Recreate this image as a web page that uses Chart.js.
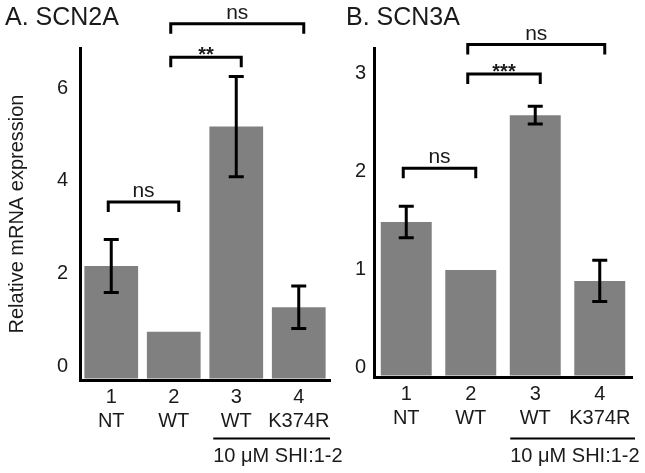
<!DOCTYPE html>
<html><head><meta charset="utf-8">
<script src="https://cdn.jsdelivr.net/npm/chart.js@4/dist/chart.umd.min.js"></script>
<style>
html,body{margin:0;padding:0;background:#fff;width:645px;height:473px;overflow:hidden}
.box{position:absolute;top:0;height:473px}
</style></head><body>
<div class="box" style="left:0;width:350px"><canvas id="cA" width="350" height="473"></canvas></div>
<div class="box" style="left:335px;width:310px"><canvas id="cB" width="310" height="473"></canvas></div>
<script>
// ---- data ----
const categories = [['1','NT'],['2','WT'],['3','WT'],['4','K374R']];
const scn2aValues = [2.16, 0.74, 5.17, 1.27];
const scn2aErrors = [0.57, 0, 1.08, 0.46];
const scn2aTicks = [0, 2, 4, 6];
const scn3aValues = [1.48, 0.99, 2.57, 0.88];
const scn3aErrors = [0.16, 0, 0.09, 0.21];
const scn3aTicks = [0, 1, 2, 3];
// [from category, to category, height (value units), label]
const scn2aBrackets = [[1, 3, 7.39, 'ns'], [1, 2, 6.67, '**'], [0, 1, 3.54, 'ns']];
const scn3aBrackets = [[1, 3, 3.29, 'ns'], [1, 2, 2.99, '***'], [0, 1, 2.03, 'ns']];
const treatmentLabel = '10 μM SHI:1-2';
const titleA = 'A. SCN2A';
const titleB = 'B. SCN3A';
const yTitle = 'Relative mRNA expression';

const INK = '#1a1a1a';
const FONT = 'Liberation Sans, Arial, sans-serif';
const NARROW = 'Liberation Sans Narrow, Liberation Sans, Arial, sans-serif';

function decorPlugin(cfg) {
  return {
    id: 'decor',
    afterDatasetsDraw(chart) {
      const ctx = chart.ctx, y = chart.scales.y, meta = chart.getDatasetMeta(0);
      ctx.save();
      ctx.strokeStyle = '#000';
      ctx.lineWidth = 3;
      cfg.values.forEach((v, i) => {
        const e = cfg.errors[i];
        if (!e) return;
        const x = meta.data[i].x;
        const t = y.getPixelForValue(v + e), b = y.getPixelForValue(v - e);
        ctx.beginPath();
        ctx.moveTo(x, t); ctx.lineTo(x, b);
        ctx.moveTo(x - 7.5, t); ctx.lineTo(x + 7.5, t);
        ctx.moveTo(x - 7.5, b); ctx.lineTo(x + 7.5, b);
        ctx.stroke();
      });
      ctx.restore();
    },
    afterDraw(chart) {
      const ctx = chart.ctx, xs = chart.scales.x, y = chart.scales.y, area = chart.chartArea;
      ctx.save();
      // title
      ctx.fillStyle = INK;
      ctx.font = '25px ' + FONT;
      ctx.textAlign = 'left';
      ctx.textBaseline = 'middle';
      ctx.fillText(cfg.title, cfg.titleX, 18);
      // brackets
      ctx.strokeStyle = '#000';
      ctx.lineWidth = 3;
      cfg.brackets.forEach(([a, b, h, lab]) => {
        const x1 = xs.getPixelForValue(a) - 3, x2 = xs.getPixelForValue(b) + 5;
        const py = y.getPixelForValue(h);
        ctx.beginPath();
        ctx.moveTo(x1, py + 10); ctx.lineTo(x1, py); ctx.lineTo(x2, py); ctx.lineTo(x2, py + 10);
        ctx.stroke();
        ctx.textAlign = 'center';
        ctx.textBaseline = 'alphabetic';
        const cx = (x1 + x2) / 2;
        if (lab === 'ns') {
          ctx.font = '21px ' + NARROW;
          ctx.fillText(lab, cx, py - 5);
        } else {
          ctx.font = 'bold 20px ' + FONT;
          ctx.fillText(lab, cx, py + 4);
        }
      });
      // treatment underline
      const lx = xs.getPixelForValue(2) - cfg.lineStart;
      const rx = area.right + cfg.lineEnd;
      ctx.lineWidth = 2;
      ctx.beginPath();
      ctx.moveTo(lx, 438.5); ctx.lineTo(rx, 438.5);
      ctx.stroke();
      ctx.font = '20px ' + FONT;
      ctx.textAlign = 'left';
      ctx.textBaseline = 'middle';
      ctx.fillText(treatmentLabel, lx, 456);
      ctx.restore();
    }
  };
}

function makeChart(id, p) {
  const canvas = document.getElementById(id);
  return new Chart(canvas, {
    type: 'bar',
    data: {
      labels: categories,
      datasets: [{
        data: p.values,
        backgroundColor: '#808080',
        borderWidth: 0,
        base: p.base,
        categoryPercentage: 1,
        barPercentage: p.barPct
      }]
    },
    options: {
      responsive: false,
      animation: false,
      events: [],
      layout: { padding: { left: 0, top: 48, right: canvas.width - p.right, bottom: 0 } },
      plugins: { legend: { display: false }, tooltip: { enabled: false } },
      scales: {
        x: {
          grid: { display: false, drawTicks: false },
          border: { display: true, width: 3, color: '#000' },
          ticks: { font: { size: 20, family: FONT, lineHeight: 1.2 }, color: INK, padding: 5, maxRotation: 0, autoSkip: false },
          afterFit: s => { s.height = 473 - p.axisY; }
        },
        y: {
          min: p.min, max: p.max,
          grid: { display: false, drawTicks: false },
          border: { display: true, width: 3, color: '#000' },
          ticks: { font: { size: 20, family: FONT }, color: INK, padding: p.tickPad },
          afterBuildTicks: s => { s.ticks = p.ticks.map(v => ({ value: v })); },
          afterFit: s => { s.width = p.left; },
          title: p.yTitle ? { display: true, text: p.yTitle, font: { size: 20, family: FONT }, color: INK, padding: { top: 5, bottom: 0 } } : { display: false }
        }
      }
    },
    plugins: [decorPlugin(p)]
  });
}

makeChart('cA', {
  values: scn2aValues, errors: scn2aErrors, ticks: scn2aTicks, brackets: scn2aBrackets,
  min: -0.302, max: 6.868, base: -0.27, left: 80, right: 330, axisY: 380, barPct: 0.86, tickPad: 12,
  title: titleA, titleX: 5, lineStart: 23, lineEnd: 0, yTitle: yTitle
});
makeChart('cB', {
  values: scn3aValues, errors: scn3aErrors, ticks: scn3aTicks, brackets: scn3aBrackets,
  min: -0.1, max: 3.255, base: -0.085, left: 39, right: 297, axisY: 377, barPct: 0.79, tickPad: 8,
  title: titleB, titleX: 11, lineStart: 25, lineEnd: 3, yTitle: null
});
</script>
</body></html>
